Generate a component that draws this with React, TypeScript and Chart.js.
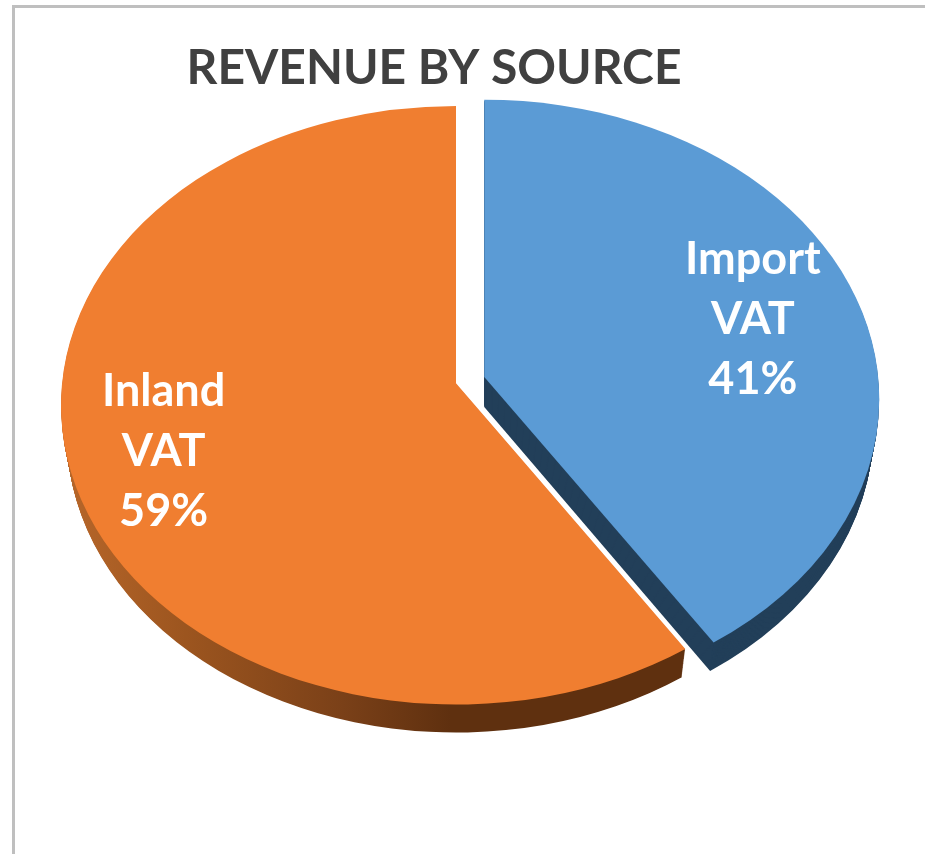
import React, { useEffect, useRef } from "react";
import { Chart, registerables } from "chart.js";

Chart.register(...registerables);

const titleText = "REVENUE BY SOURCE";
const categories = ["Import VAT", "Inland VAT"];
const shareValues = [40.8, 59.2];
const sliceOffsets = [29.5, 0];
const sliceColors = ["#5b9bd5", "#f07e30"];
const labelDistances = [0.72, 0.76];

const TILT = 0.7576;
const APEX = 0.0733;
const CENTER_SHIFT = 22;
const DEPTH = 30;
const SHRINK_X = 6;
const SHRINK_Y = 2;
const LABEL_FONT = "bold 45px Lato, Carlito, sans-serif";
const LINE_H = 60;
const LABEL_DY = 3;

function project(angle: number) {
  const u = Math.cos(angle);
  const v = -Math.sin(angle);
  const d = 1 + APEX * v;
  return {
    u: (u * Math.sqrt(1 - APEX * APEX)) / d,
    v: (v + APEX) / d,
  };
}

const pie3d = {
  id: "pie3d",
  beforeDatasetsDraw(chart: any) {
    const ctx = chart.ctx;
    const meta = chart.getDatasetMeta(0);
    const info = meta.data.map((arc: any, i: number) => {
      const mid = (arc.startAngle + arc.endAngle) / 2;
      const off = arc.options.offset || 0;
      const rx = arc.outerRadius;
      const ry = rx * TILT;
      return {
        i, arc, mid, rx, ry,
        cx: arc.x + CENTER_SHIFT + off * Math.cos(mid),
        cy: arc.y + off * Math.sin(mid) * TILT,
      };
    });

    const wedge = (s: any, k: number) => {
      const a = project(s.arc.startAngle);
      const b = project(s.arc.endAngle);
      const p1 = Math.atan2(-a.v, a.u);
      const p2 = Math.atan2(-b.v, b.u);
      const t = k / DEPTH;
      ctx.beginPath();
      ctx.moveTo(s.cx, s.cy + k - s.ry * APEX);
      ctx.ellipse(s.cx, s.cy + k, s.rx - SHRINK_X * t, s.ry - SHRINK_Y * t, 0, p1, p2, false);
      ctx.closePath();
    };

    const sideFill = (i: number) => {
      if (i === 0) return "#223f59";
      const g = ctx.createLinearGradient(60, 0, 690, 0);
      g.addColorStop(0, "#b8672a");
      g.addColorStop(0.2, "#9c551f");
      g.addColorStop(0.45, "#7a4018");
      g.addColorStop(0.62, "#5f300f");
      g.addColorStop(1, "#5f300f");
      return g;
    };

    // Inland first, so the exploded Import slice sits on top of it.
    [...info].reverse().forEach((s: any) => {
      ctx.save();
      ctx.fillStyle = sideFill(s.i);
      for (let k = DEPTH; k >= 1; k--) {
        wedge(s, k);
        ctx.fill();
      }
      ctx.fillStyle = s.arc.options.backgroundColor;
      wedge(s, 0);
      ctx.fill();
      ctx.restore();
    });

    // Data labels
    const values = chart.data.datasets[0].data;
    const total = values.reduce((p: number, c: number) => p + c, 0);
    ctx.save();
    ctx.font = LABEL_FONT;
    ctx.fillStyle = "#ffffff";
    ctx.textAlign = "center";
    ctx.textBaseline = "middle";
    info.forEach((s: any) => {
      const f = labelDistances[s.i];
      const u = f * Math.cos(s.mid);
      const v = -f * Math.sin(s.mid);
      const d = 1 + APEX * v;
      const x = s.cx + (s.rx * u) / d;
      const y = s.cy - (s.ry * (v + APEX)) / d + LABEL_DY;
      const lines = [
        ...String(chart.data.labels[s.i]).split(" "),
        `${Math.round((values[s.i] / total) * 100)}%`,
      ];
      lines.forEach((t: string, n: number) => {
        ctx.fillText(t, x, y + (n - 1) * LINE_H);
      });
    });
    ctx.restore();
    return false;
  },
};

export default function App() {
  const ref = useRef<HTMLCanvasElement | null>(null);
  useEffect(() => {
    const chart = new Chart(ref.current as HTMLCanvasElement, {
      type: "pie",
      data: {
        labels: categories,
        datasets: [
          {
            data: shareValues,
            backgroundColor: sliceColors,
            offset: sliceOffsets,
            borderWidth: 0,
          },
        ],
      },
      options: {
        responsive: false,
        animation: false,
        radius: 395,
        layout: { padding: { right: 57, bottom: 141 } },
        plugins: {
          legend: { display: false },
          tooltip: { enabled: false },
          title: {
            display: true,
            fullSize: false,
            text: titleText,
            color: "#404040",
            font: { family: "Lato, Carlito, sans-serif", size: 48, weight: "bold" },
            padding: { top: 40, bottom: 0 },
          },
        },
      } as any,
      plugins: [pie3d as any],
    });
    return () => chart.destroy();
  }, []);
  return (
    <div style={{ position: "absolute", left: 0, top: 0, width: 925, height: 854, overflow: "hidden", background: "#fff" }}>
      <canvas ref={ref} width={925} height={854} style={{ display: "block", width: 925, height: 854, filter: "blur(0.5px)" }} />
      <div style={{ position: "absolute", left: 12, top: 5, right: 0, bottom: 0, borderLeft: "3px solid #bfbfbf", borderTop: "3px solid #bfbfbf" }} />
    </div>
  );
}
